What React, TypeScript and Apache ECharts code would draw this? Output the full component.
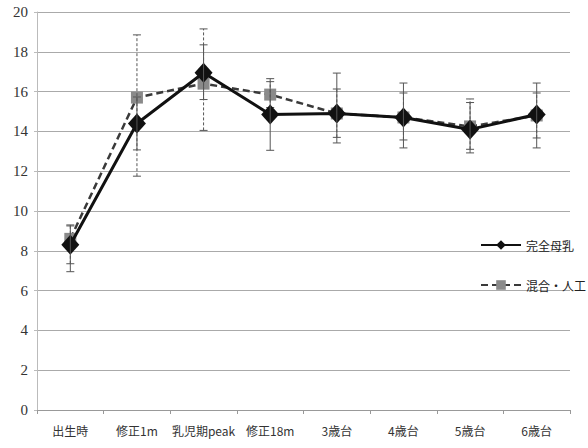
import React, { useEffect, useRef } from "react";
import * as echarts from "echarts";

const categories = ["出生時", "修正1m", "乳児期peak", "修正18m", "3歳台", "4歳台", "5歳台", "6歳台"];
const seriesNames = ["完全母乳", "混合・人工"];
const breastValues = [8.3, 14.4, 16.95, 14.85, 14.9, 14.7, 14.1, 14.85];
const mixedValues = [8.6, 15.7, 16.4, 15.85, 14.9, 14.7, 14.25, 14.8];
const breastLow = [6.95, 13.07, 15.6, 13.05, 13.42, 13.17, 12.92, 13.17];
const breastHigh = [9.3, 15.73, 18.35, 16.65, 16.93, 16.43, 15.45, 16.43];
const mixedLow = [7.35, 11.75, 14.05, 15.2, 13.7, 13.57, 13.1, 13.67];
const mixedHigh = [9.25, 18.85, 19.15, 16.5, 16.13, 15.93, 15.63, 15.93];
const yMin = 0;
const yMax = 20;
const yInterval = 2;

const serifFont = "Liberation Serif";
const cjkFont = "Noto Sans CJK JP";

function errorRender(dashed: boolean) {
  return (params: any, api: any) => {
    const x = api.value(0);
    const lo = api.coord([x, api.value(1)]);
    const hi = api.coord([x, api.value(2)]);
    const cap = 4;
    const style = {
      stroke: "#555",
      lineWidth: 1,
      lineDash: dashed ? [3, 2] : null,
    };
    const capStyle = { stroke: "#555", lineWidth: 1 };
    return {
      type: "group",
      children: [
        { type: "line", shape: { x1: lo[0], y1: lo[1], x2: hi[0], y2: hi[1] }, style },
        { type: "line", shape: { x1: lo[0] - cap, y1: lo[1], x2: lo[0] + cap, y2: lo[1] }, style: capStyle },
        { type: "line", shape: { x1: hi[0] - cap, y1: hi[1], x2: hi[0] + cap, y2: hi[1] }, style: capStyle },
      ],
    };
  };
}

export default function App() {
  const ref = useRef<HTMLDivElement>(null);
  useEffect(() => {
    if (!ref.current) return;
    const chart = echarts.init(ref.current, null, { renderer: "svg" });
    const breastErr = categories.map((_, i) => [i, breastLow[i], breastHigh[i]]);
    const mixedErr = categories.map((_, i) => [i, mixedLow[i], mixedHigh[i]]);
    chart.setOption({
      animation: false,
      backgroundColor: "#ffffff",
      textStyle: { fontFamily: serifFont },
      grid: { left: 37, right: 18, top: 12, bottom: 38 },
      legend: {
        orient: "vertical",
        left: 475,
        top: 234,
        itemWidth: 40,
        itemHeight: 12,
        itemGap: 28,
        data: seriesNames,
        textStyle: { fontFamily: cjkFont, fontSize: 12, color: "#222" },
      },
      xAxis: {
        type: "category",
        data: categories,
        boundaryGap: true,
        axisLine: { lineStyle: { color: "#999" } },
        axisTick: { show: true, length: 4, lineStyle: { color: "#999" } },
        axisLabel: {
          interval: 0,
          margin: 14,
          fontSize: 12,
          color: "#333",
          fontFamily: cjkFont,
        },
      },
      yAxis: {
        type: "value",
        min: yMin,
        max: yMax,
        interval: yInterval,
        axisLine: { show: true, lineStyle: { color: "#bbb" } },
        axisTick: { show: true, length: 3, lineStyle: { color: "#bbb" } },
        splitLine: { lineStyle: { color: "#aaa", width: 1 } },
        axisLabel: {
          fontSize: 15,
          color: "#333",
          margin: 9,
          fontFamily: serifFont,
        },
      },
      series: [
        {
          name: seriesNames[1],
          type: "line",
          data: mixedValues,
          symbol: "rect",
          symbolSize: 12,
          itemStyle: { color: "#8a8a8a" },
          lineStyle: { color: "#3a3a3a", width: 2.5, type: [7, 4] },
          z: 2,
        },
        {
          type: "custom",
          renderItem: errorRender(true),
          data: mixedErr,
          z: 3,
          silent: true,
        },
        {
          name: seriesNames[0],
          type: "line",
          data: breastValues,
          symbol: "diamond",
          symbolSize: [18, 20],
          itemStyle: { color: "#111" },
          lineStyle: { color: "#111", width: 3 },
          z: 4,
        },
        {
          type: "custom",
          renderItem: errorRender(false),
          data: breastErr,
          z: 5,
          silent: true,
        },
      ],
    });
    return () => chart.dispose();
  }, []);
  return <div ref={ref} style={{ width: 588, height: 448, position: "absolute", left: 0, top: 0 }} />;
}
